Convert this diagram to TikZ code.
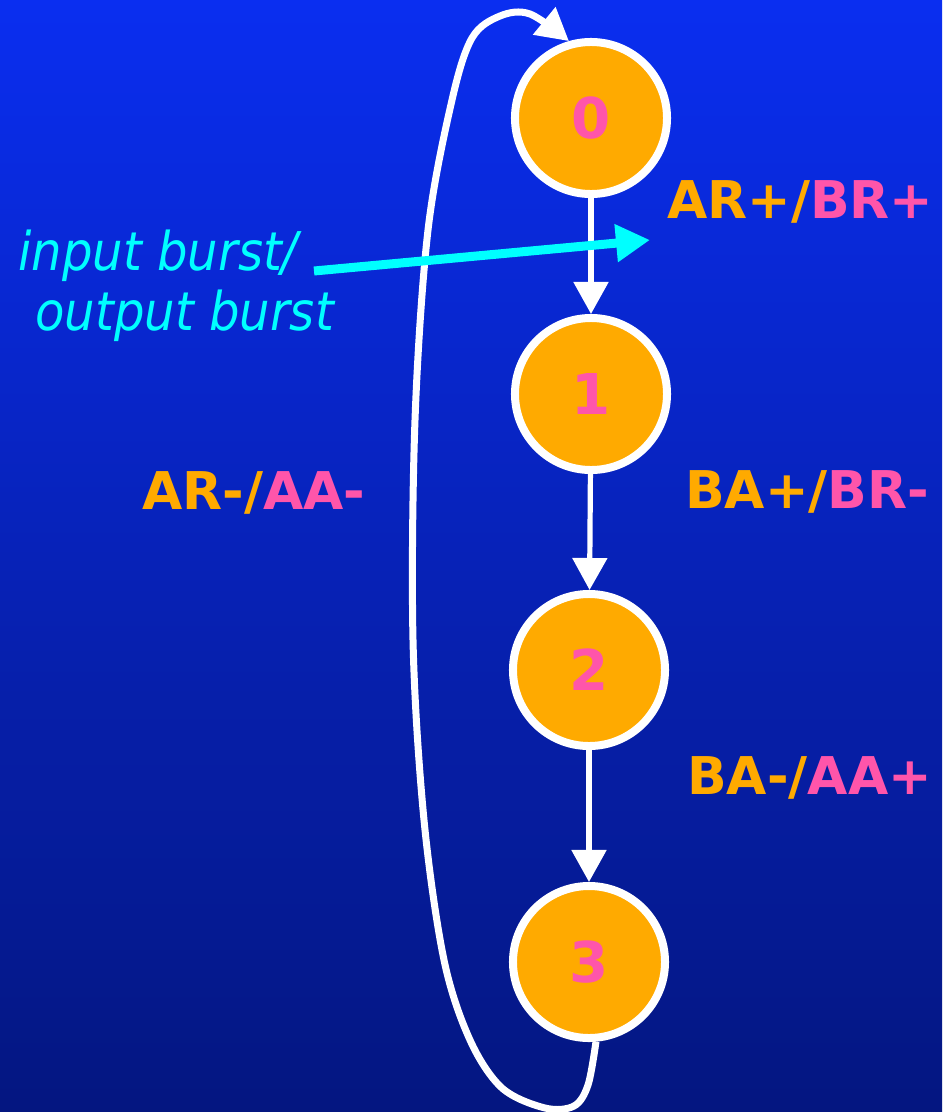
\documentclass[tikz,border=0pt]{standalone}
\usepackage{fontspec}
\usetikzlibrary{arrows.meta}
\newfontfamily\lblfont{DejaVu Sans}
\newfontfamily\notefont[FakeStretch=0.9]{DejaVu Sans}
\definecolor{bgtop}{RGB}{10,46,240}
\definecolor{bgbottom}{RGB}{4,22,128}
\definecolor{stateorange}{RGB}{255,170,0}
\definecolor{trpink}{RGB}{255,85,170}
\definecolor{notecyan}{RGB}{0,255,255}
\tikzset{
  state/.style={circle, draw=white, line width=0.2cm, fill=stateorange,
    minimum size=3.8cm, inner sep=0pt, text=trpink,
    font=\lblfont\bfseries\fontsize{40}{44}\selectfont},
  trans/.style={draw=white, line width=0.13cm,
    -{Triangle[length=0.8cm,width=0.85cm]}},
  backloop/.style={draw=white, line width=0.175cm, line join=round,
    -{Triangle[length=0.8cm,width=0.85cm]}},
  notearrow/.style={draw=notecyan, line width=0.225cm,
    -{Triangle[length=0.85cm,width=0.9cm]}},
  lbl/.style={anchor=base west, inner sep=0pt,
    font=\lblfont\bfseries\fontsize{37}{40}\selectfont},
  notelbl/.style={anchor=base west, inner sep=0pt, text=notecyan,
    font=\notefont\itshape\fontsize{38}{42}\selectfont},
}
\newcommand{\io}[2]{\textcolor{stateorange}{#1/}\textcolor{trpink}{#2}}
\begin{document}
\begin{tikzpicture}[x=0.025cm, y=-0.025cm]
  % background (pixel units, y downwards)
  \shade[top color=bgtop, bottom color=bgbottom] (0,0) rectangle (942,1112);
  \useasboundingbox (0,0) rectangle (942,1112);

  % states
  \node[state] (s0) at (591,118) {0};
  \node[state] (s1) at (591,394) {1};
  \node[state] (s2) at (589,670) {2};
  \node[state] (s3) at (589,962) {3};

  % transitions
  \draw[trans] (s0) -- (s1);
  \draw[trans] (s1) -- (s2);
  \draw[trans] (s2) -- (s3);
  \draw[backloop] plot[smooth, tension=0.55] coordinates {
    (s3.-85) (588,1085) (574,1106) (545,1108) (502,1088) (470,1040)
    (444,960) (424,820) (413,640) (415,420) (428,230) (452,100)
    (472,38) (500,16) (530,14) (s0.106)};

  % burst labels
  \node[lbl] (l01) at (667,218) {\io{AR+}{BR+}};
  \node[lbl] (l12) at (685,508) {\io{BA+}{BR-}};
  \node[lbl] (l23) at (687,794) {\io{BA-}{AA+}};
  \node[lbl] (l30) at (142,509) {\io{AR-}{AA-}};

  % note
  \node[notelbl] (in)  at (18,270) {input burst/};
  \node[notelbl] (out) at (35,330) {output burst};
  \coordinate (notefrom) at (314,271);
  \coordinate (noteto) at (650,240);
  \draw[notearrow] (notefrom) -- (noteto);
\end{tikzpicture}
\end{document}
